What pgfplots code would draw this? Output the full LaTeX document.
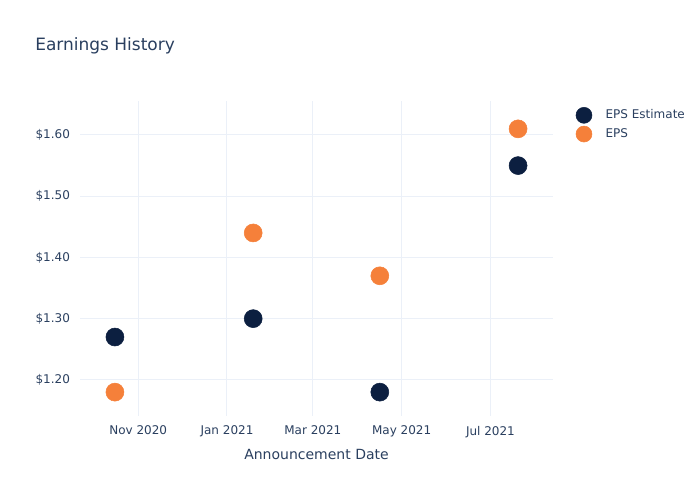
\documentclass[border=0pt]{standalone}
\usepackage{pgfplots}
\pgfplotsset{compat=1.18}
\usepackage{fontspec}
\setmainfont{DejaVu Sans}
\definecolor{txt}{HTML}{2A3F5F}
\definecolor{grd}{HTML}{EBF0F8}
\definecolor{navy}{HTML}{0C1F40}
\definecolor{orng}{HTML}{F5803A}
\begin{document}
\begin{tikzpicture}
\path[use as bounding box] (0,0) rectangle (525pt,375pt);
\node[anchor=west, text=txt, font=\fontsize{12.75pt}{15pt}\selectfont, inner sep=0pt] at (26.25pt,340.5pt) {Earnings History};
\begin{axis}[
  at={(60pt,63pt)}, anchor=south west,
  scale only axis, width=354.75pt, height=236.25pt,
  xmin=-40, xmax=285, ymin=1.141, ymax=1.6555,
  axis line style={draw=none},
  major tick length=0pt,
  grid=major, grid style={grd, line width=0.75pt},
  xtick={0,61,120,181,242},
  xticklabels={Nov 2020,Jan 2021,Mar 2021,May 2021,Jul 2021},
  ytick={1.2,1.3,1.4,1.5,1.6},
  yticklabels={\$1.20,\$1.30,\$1.40,\$1.50,\$1.60},
  tick label style={text=txt, font=\fontsize{9pt}{11pt}\selectfont},
  xticklabel style={yshift=-4pt},
  yticklabel style={xshift=-4pt},
  xlabel={Announcement Date},
  xlabel style={text=txt, font=\fontsize{10.5pt}{12pt}\selectfont, yshift=-2pt},
  legend style={at={(1.039,0.99)}, anchor=north west, draw=none, fill=none,
    font=\fontsize{9pt}{11pt}\selectfont, text=txt, row sep=1.8pt},
  legend image code/.code={%
    \draw[#1, mark size=6pt] plot coordinates {(0pt,0pt)};
    \path (-6pt,0pt) (14pt,0pt);},
  legend cell align=left,
  clip=false,
]
\addplot[only marks, mark=*, mark size=6.75pt, color=navy] coordinates {
 (-16,1.27) (79,1.30) (166,1.18) (261,1.55)};
\addlegendentry{EPS Estimate}
\addplot[only marks, mark=*, mark size=6.75pt, color=orng] coordinates {
 (-16,1.18) (79,1.44) (166,1.37) (261,1.61)};
\addlegendentry{EPS}
\end{axis}
\end{tikzpicture}
\end{document}
